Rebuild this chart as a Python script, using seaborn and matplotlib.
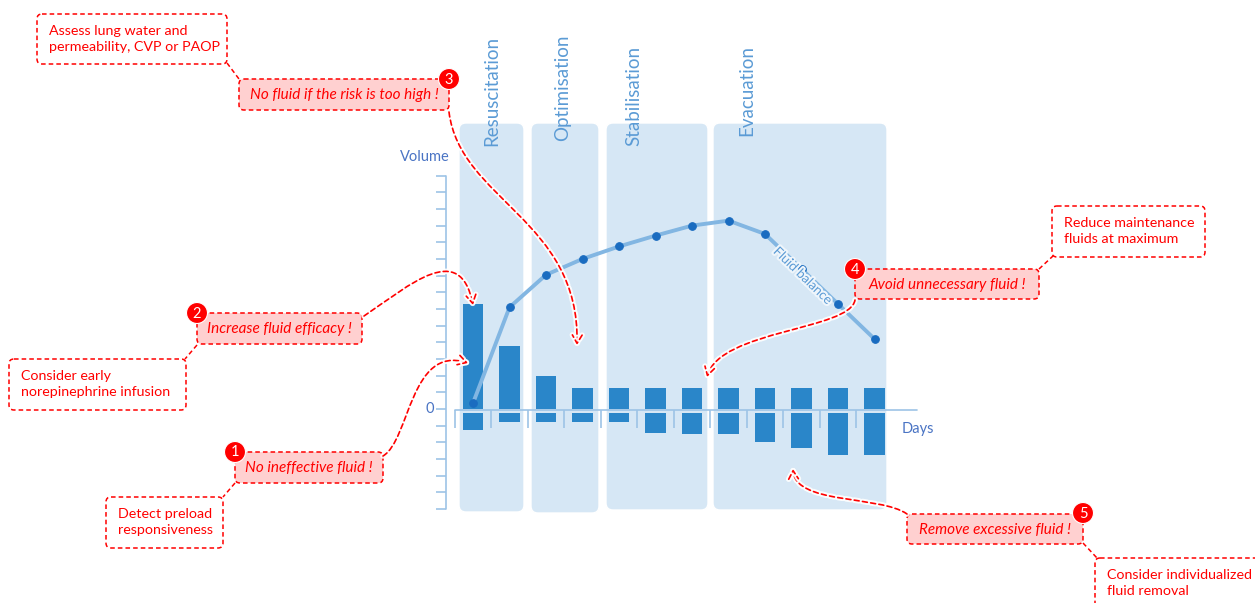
import matplotlib
matplotlib.use("Agg")
import matplotlib.pyplot as plt
import matplotlib.patheffects as pe
from matplotlib.patches import FancyBboxPatch, FancyArrowPatch, Circle
from matplotlib.path import Path
import numpy as np
import pandas as pd
import seaborn as sns

# data (volume units = one y tick)
days = [1, 2, 3, 4, 5, 6, 7, 8, 9, 10, 11, 12]
fluid_in = [6.3, 3.75, 1.95, 1.25, 1.25, 1.25, 1.25, 1.25, 1.25, 1.25, 1.25, 1.25]
fluid_out = [1.0, 0.5, 0.5, 0.5, 0.5, 1.2, 1.25, 1.25, 1.7, 2.1, 2.5, 2.5]
balance = [0.35, 6.1, 8.05, 9.0, 9.75, 10.4, 11.0, 11.3, 10.5, 8.4, 6.3, 4.2]
phases = ["Resuscitation", "Optimisation", "Stabilisation", "Evacuation"]

df = pd.DataFrame({"day": days, "fluid_in": fluid_in,
                   "fluid_out": [-v for v in fluid_out], "balance": balance})

sns.set_theme(style="white")
plt.rcParams["font.family"] = ["Lato", "DejaVu Sans"]

RED = "#ff0000"
BAR = "#2a86c9"
PANEL = "#d6e7f5"
AXC = "#9dc3e6"
LABEL = "#4a74c4"
PHASE = "#5b9bd5"

W, H = 1255, 603
fig = plt.figure(figsize=(W / 100, H / 100), dpi=100)

# pixel mapping of the chart area
X0, DX = 473, 36.5     # pixel x of day 1, pixels per day
Y0, DY = 409, 16.67    # pixel y of zero, pixels per unit

# background axes in pixel coords: phase panels
bg = fig.add_axes([0, 0, 1, 1], zorder=0)
bg.set_xlim(0, W)
bg.set_ylim(H, 0)
bg.axis("off")
panels = [(459, 524, 123, 512), (531, 599, 123, 513), (606, 708, 123, 510), (713, 887, 123, 510)]
label_pos = [(492, 91), (563, 88), (634, 96), (747, 91)]
for (x0, x1, y0, y1), name, (lx, ly) in zip(panels, phases, label_pos):
    bg.add_patch(FancyBboxPatch((x0 + 7, y0 + 7), x1 - x0 - 14, y1 - y0 - 14,
                                boxstyle="round,pad=7", fc=PANEL, ec="white", lw=1))
    bg.text(lx, ly, name, rotation=90, ha="center", va="center", color=PHASE, fontsize=13.5)

# main chart axes in data coords
ax = fig.add_axes([0, 0, 1, 1], zorder=1)
ax.patch.set_alpha(0)
sns.barplot(data=df, x="day", y="fluid_in", native_scale=True, width=0.56,
            color=BAR, saturation=1, errorbar=None, ax=ax, zorder=2, linewidth=0)
sns.barplot(data=df, x="day", y="fluid_out", native_scale=True, width=0.56,
            color=BAR, saturation=1, errorbar=None, ax=ax, bottom=-0.26, zorder=2, linewidth=0)
sns.lineplot(data=df, x="day", y="balance", color="#82b6e2", lw=2.8, ax=ax, zorder=3,
             marker="o", markersize=5.5, markerfacecolor="#1a6cc0", markeredgecolor="#1a6cc0")

# hand-drawn axes
yax = 1 + (446 - X0) / DX
tick_len = 10 / DX
ax.plot([yax, yax], [-6, 14], color=AXC, lw=1.2, zorder=1)
ax.hlines(np.arange(-6, 15), yax - tick_len, yax, color=AXC, lw=1.2, zorder=1)
ax.plot([0.5, 1 + (917 - X0) / DX], [-0.06, -0.06], color=AXC, lw=1.2, zorder=1)
ax.vlines(np.array(days) - 0.5, -0.06, -19 / DY, color=AXC, lw=1.2, zorder=1)
ax.text(yax - 12 / DX, 0, "0", ha="right", va="center", color=LABEL, fontsize=10.5)

ax.set_xlim(1 - X0 / DX, 1 + (W - X0) / DX)
ax.set_ylim((Y0 - H) / DY, Y0 / DY)
ax.axis("off")

# foreground axes in pixel coords: labels and call-outs
fg = fig.add_axes([0, 0, 1, 1], zorder=2)
fg.patch.set_alpha(0)
fg.set_xlim(0, W)
fg.set_ylim(H, 0)
fg.axis("off")

fg.text(425, 157, "Volume", ha="center", va="center", color=LABEL, fontsize=10.5)
fg.text(918, 429, "Days", ha="center", va="center", color=LABEL, fontsize=10.5)
fg.text(803, 276, "Fluid balance", rotation=-44, ha="center", va="center", color=PHASE,
        fontsize=9.5, path_effects=[pe.withStroke(linewidth=3, foreground="#eef5fb")])

glow = [pe.Stroke(linewidth=4, foreground="white", alpha=0.9), pe.Normal()]


def box(x0, y0, x1, y1, fill):
    fg.add_patch(FancyBboxPatch((x0 + 5, y0 + 5), x1 - x0 - 10, y1 - y0 - 10,
                                boxstyle="round,pad=5", fc=fill, ec=RED, lw=1.1,
                                ls=(0, (3, 2))))


# warnings (pink boxes with numbered badges)
warnings = [
    ("No ineffective fluid !", (235, 452, 383, 483), "1"),
    ("Increase fluid efficacy !", (197, 313, 362, 344), "2"),
    ("No fluid if the risk is too high !", (239, 79, 449, 110), "3"),
    ("Avoid unnecessary fluid !", (855, 269, 1039, 299), "4"),
    ("Remove excessive fluid !", (907, 514, 1083, 544), "5"),
]
badge_pos = [(235, 452), (197, 313), (449, 79), (855, 269), (1083, 513)]
for (txt, (x0, y0, x1, y1), num), (bx, by) in zip(warnings, badge_pos):
    box(x0, y0, x1, y1, "#ffd0d0")
    fg.text((x0 + x1) / 2, (y0 + y1) / 2 + 1, txt, ha="center", va="center",
            color=RED, fontsize=11, style="italic")
    fg.add_patch(Circle((bx, by), 10.5, fc=RED, ec="white", lw=0.8, zorder=5))
    fg.text(bx, by + 0.5, num, ha="center", va="center", color="white", fontsize=10.5, zorder=6)

# advice (white boxes)
advice = [
    ("Assess lung water and\npermeability, CVP or PAOP", (37, 14, 227, 64)),
    ("Consider early\nnorepinephrine infusion", (9, 359, 186, 410)),
    ("Detect preload\nresponsiveness", (106, 497, 223, 548)),
    ("Reduce maintenance\nfluids at maximum", (1052, 206, 1205, 257)),
    ("Consider individualized\nfluid removal", (1095, 558, 1290, 625)),
]
for txt, (x0, y0, x1, y1) in advice:
    box(x0, y0, x1, y1, "white")
    fg.text(x0 + 12, y0 + 25, txt, ha="left", va="center",
            color=RED, fontsize=10.3, linespacing=1.35)

# short connectors between advice and warning boxes
links = [((227, 63), (239, 79)), ((197, 345), (185, 359)), ((235, 483), (223, 497)),
         ((1039, 269), (1053, 256)), ((1083, 543), (1097, 558))]
for (xa, ya), (xb, yb) in links:
    fg.plot([xa, xb], [ya, yb], color=RED, lw=1.1, ls=(0, (3, 2)))

# curved arrows to the bars
curves = [
    [(383, 456), (410, 440), (410, 345), (468, 363)],
    [(364, 316), (410, 285), (460, 240), (473, 305)],
    [(449, 112), (460, 200), (580, 220), (577, 345)],
    [(855, 300), (850, 330), (720, 330), (707, 377)],
    [(907, 514), (880, 495), (795, 505), (793, 469)],
]
for pts in curves:
    path = Path(pts, [Path.MOVETO, Path.CURVE4, Path.CURVE4, Path.CURVE4])
    fg.add_patch(FancyArrowPatch(path=path, arrowstyle="->,head_length=6,head_width=3.5",
                                 color=RED, lw=1.2, ls=(0, (3, 2)), path_effects=glow, zorder=4))

fig.savefig("out.png", dpi=100)
